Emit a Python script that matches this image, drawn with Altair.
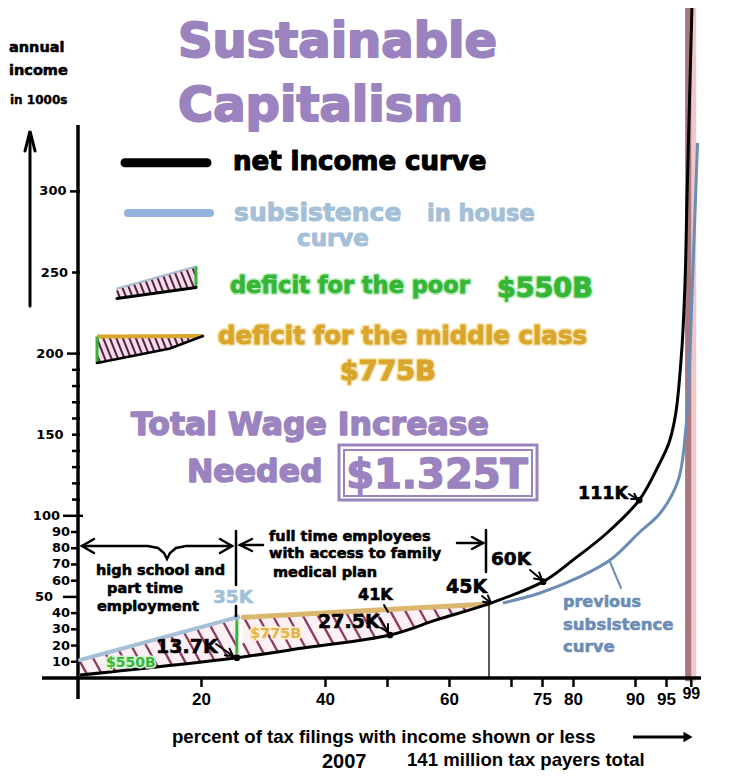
import altair as alt
import numpy as np
import pandas as pd

# ---------------- data ----------------
net_pct = [0.4, 25.7, 36.4, 50.4, 57.9, 66.5, 75.1, 79.9, 85.4, 90.6, 93.6, 95.4, 96.5, 97.5, 98.0, 98.3, 99.1]
net_inc = [1.8, 12.5, 18.5, 26.5, 35.8, 46.0, 59.4, 72.7, 89.4, 109.7, 130.1, 145.0, 163.4, 204.3, 245.4, 294.7, 413.0]
prev_pct = [68.6, 74.6, 81.0, 85.9, 90.7, 94.0, 96.9, 98.1, 98.6, 99.2, 100.0]
prev_inc = [46.2, 52.4, 62.3, 72.7, 90.0, 101.7, 122.1, 152.9, 183.7, 245.4, 329.8]
subs_pct = [0.4, 25.7]
subs_inc = [11.1, 37.4]
mid_pct = [26.7, 66.3]
mid_inc = [37.4, 45.6]
dot_pct = [25.7, 50.4, 75.1, 90.6]
dot_inc = [12.5, 26.5, 59.4, 109.7]
band_pct = [98.0, 99.05, 99.8]
ytick_major = [10, 20, 30, 40, 50, 60, 70, 80, 90, 100, 150, 200, 250, 300]
ytick_minor = [110, 120, 130, 140, 160, 170, 180, 190]
xtick_major = [20, 40, 60, 75, 80, 90, 95, 99]
xtick_minor = [50, 70]

# ---------------- geometry helpers ----------------
W, H = 725, 763
X0, XS = 77.5, 6.2
Y0, YS = 678.0, 1.622
xdom = [(8 - X0) / XS, (8 + W - X0) / XS]
ydom = [(Y0 - (8 + H)) / YS, (Y0 - 8) / YS]
xsc = alt.Scale(domain=xdom, nice=False, zero=False)
ysc = alt.Scale(domain=ydom, nice=False, zero=False)


def px2x(p):
    return (np.asarray(p, dtype=float) - X0) / XS


def py2y(p):
    return (Y0 - np.asarray(p, dtype=float)) / YS


def x2px(v):
    return X0 + XS * np.asarray(v, dtype=float)


def y2py(v):
    return Y0 - YS * np.asarray(v, dtype=float)


XE = alt.X("x:Q", scale=xsc, axis=None)
YE = alt.Y("y:Q", scale=ysc, axis=None)
ONE = pd.DataFrame({"k": [0]})
FONT = "DejaVu Sans"
NARROW = "Liberation Sans Narrow, Liberation Sans"
PURPLE = "#9a83bf"
GREEN = "#36b636"
GOLD = "#d9a52a"
STEEL = "#6b8db5"

layers = []


def poly_df(polys, pixel=True):
    rows = []
    for i, pts in enumerate(polys):
        for j, (a, b) in enumerate(pts):
            rows.append({"x": float(px2x(a)) if pixel else a,
                         "y": float(py2y(b)) if pixel else b, "seg": i, "o": j})
    return pd.DataFrame(rows)


def lines(polys, color, width, pixel=True, cap="round", interp="linear", dash=None):
    mk = dict(color=color, strokeWidth=width, strokeCap=cap, interpolate=interp)
    if dash:
        mk["strokeDash"] = dash
    return alt.Chart(poly_df(polys, pixel)).mark_line(**mk).encode(
        x=XE, y=YE, detail="seg:N", order="o:Q")


def arrow(x0, y0, x1, y1, h=7, w=4):
    dx, dy = x1 - x0, y1 - y0
    L = np.hypot(dx, dy)
    ux, uy = dx / L, dy / L
    bx, by = x1 - ux * h, y1 - uy * h
    nx, ny = -uy * w, ux * w
    return [[(x0, y0), (x1, y1)], [(bx + nx, by + ny), (x1, y1), (bx - nx, by - ny)]]


def stripes(xs, xe, up_x, up_y, lo_x, lo_y, step, slope):
    gx = np.linspace(xs, xe, 900)
    yu = np.interp(gx, up_x, up_y)
    yl = np.interp(gx, lo_x, lo_y)
    cmin = (gx - slope * yl).min()
    cmax = (gx - slope * yu).max()
    rows = []
    for c in np.arange(cmin + step / 2, cmax, step):
        ys_ = (gx - c) / slope
        ins = np.where((ys_ >= yu) & (ys_ <= yl))[0]
        if len(ins) < 2:
            continue
        a, b = ins[0], ins[-1]
        rows.append(dict(x=float(px2x(gx[a])), y=float(py2y(ys_[a])),
                         x2=float(px2x(gx[b])), y2=float(py2y(ys_[b]))))
    return pd.DataFrame(rows)


def hatch(xs, xe, up_x, up_y, lo_x, lo_y, step, slope, bg, fg, width):
    gx = np.linspace(xs, xe, 80)
    fdf = pd.DataFrame(dict(x=px2x(gx), y=py2y(np.interp(gx, up_x, up_y)),
                            y2=py2y(np.interp(gx, lo_x, lo_y))))
    out = [alt.Chart(fdf).mark_area(color=bg).encode(x=XE, y=YE, y2="y2:Q")]
    sdf = stripes(xs, xe, up_x, up_y, lo_x, lo_y, step, slope)
    out.append(alt.Chart(sdf).mark_rule(color=fg, strokeWidth=width).encode(
        x=XE, y=YE, x2="x2:Q", y2="y2:Q"))
    return out


def T(s, px, py, size, color="black", font=FONT, weight="bold", align="left",
      baseline="alphabetic", halo=None, halo_w=4, heavy=0):
    kw = dict(text=s, fontSize=size, color=color, font=font, fontWeight=weight,
              align=align, baseline=baseline)
    enc = dict(x=alt.value(px - 8), y=alt.value(py - 8))
    out = []
    if halo:
        out.append(alt.Chart(ONE).mark_text(stroke=halo, strokeWidth=halo_w,
                                            strokeJoin="round", **kw).encode(**enc))
    if heavy:
        out.append(alt.Chart(ONE).mark_text(stroke=color, strokeWidth=heavy,
                                            strokeJoin="round", **kw).encode(**enc))
    else:
        out.append(alt.Chart(ONE).mark_text(**kw).encode(**enc))
    return out


# ---------------- top 1% band ----------------
band = pd.DataFrame({"x": [band_pct[0], band_pct[1]], "x2": [band_pct[1], band_pct[2]],
                     "c": ["#a9787d", "#f0c8cb"]})
band["y"] = -2.0
band["y2"] = ydom[1]
layers.append(alt.Chart(band).mark_rect().encode(
    x=XE, x2="x2:Q", y=YE, y2="y2:Q", color=alt.Color("c:N", scale=None)))

# ---------------- deficit regions (hatched) ----------------
net_px, net_py = x2px(net_pct), y2py(net_inc)
layers += hatch(float(x2px(subs_pct[0])), float(x2px(subs_pct[1])),
                x2px(subs_pct), y2py(subs_inc), net_px, net_py,
                15, 0.55, "#fdf0f5", "#8a3a5c", 2.3)
layers += hatch(float(x2px(mid_pct[0])), float(x2px(mid_pct[1])),
                x2px(mid_pct), y2py(mid_inc), net_px, net_py,
                15, 0.55, "#fdf0f5", "#8a3a5c", 2.3)

# ---------------- axes ----------------
layers.append(lines([[(42, 678), (701, 678)]], "black", 3.5, cap="butt"))
layers.append(lines([[(78, 125), (78, 699)]], "black", 3.5, cap="butt"))
layers.append(lines([[(30, 306), (30, 133)], [(25, 151), (30, 131), (35, 151)]], "black", 3))
layers.append(lines([[(633, 737), (684, 737)]], "black", 3, cap="butt"))
layers.append(alt.Chart(pd.DataFrame({"x": [float(px2x(688))], "y": [float(py2y(737))]}))
              .mark_point(shape="triangle-right", filled=True, size=110, color="black", opacity=1)
              .encode(x=XE, y=YE))

# y ticks and labels
tick_groups = [  # (values, tick start px, tick end px)
    ([10, 20, 30, 40, 60, 70, 80, 90], 71, 78),
    ([50], 63, 78), ([100], 63, 83), ([150, 250], 72, 80), ([200], 67, 80),
    ([300], 70, 80), (ytick_minor, 72, 80)]
for vals, a, b in tick_groups:
    layers.append(alt.Chart(pd.DataFrame({"v": vals})).mark_rule(color="black", strokeWidth=2.5)
                  .encode(x=alt.value(a - 8), x2=alt.value(b - 8),
                          y=alt.Y("v:Q", scale=ysc, axis=None)))
label_groups = [([10, 20, 30, 40, 60, 70, 80, 90], 70), ([50], 53), ([100], 60),
                ([150, 200], 63.5), ([250], 68), ([300], 66.5)]
for vals, r in label_groups:
    df = pd.DataFrame({"v": vals, "t": [str(v) for v in vals]})
    layers.append(alt.Chart(df).mark_text(align="right", baseline="middle", fontSize=13,
                                          font=FONT, fontWeight="bold", color="black")
                  .encode(x=alt.value(r - 8), y=alt.Y("v:Q", scale=ysc, axis=None), text="t:N"))

# x ticks and labels
layers.append(alt.Chart(pd.DataFrame({"v": xtick_major + xtick_minor})).mark_rule(
    color="black", strokeWidth=2.5).encode(x=alt.X("v:Q", scale=xsc, axis=None),
                                           y=alt.value(678 - 8), y2=alt.value(687 - 8)))
xl = pd.DataFrame({"v": xtick_major[:-1], "t": [str(v) for v in xtick_major[:-1]]})
layers.append(alt.Chart(xl).mark_text(baseline="alphabetic", fontSize=17, font=NARROW,
                                      fontWeight="bold", color="black")
              .encode(x=alt.X("v:Q", scale=xsc, axis=None), y=alt.value(705 - 8), text="t:N"))
xl99 = pd.DataFrame({"v": xtick_major[-1:], "t": [str(xtick_major[-1])]})
layers.append(alt.Chart(xl99).mark_text(baseline="alphabetic", fontSize=16, font=NARROW,
                                        fontWeight="bold", color="black")
              .encode(x=alt.X("v:Q", scale=xsc, axis=None), y=alt.value(699 - 8), text="t:N"))

# ---------------- curves ----------------
layers.append(alt.Chart(pd.DataFrame({"x": subs_pct, "y": subs_inc})).mark_line(
    color="#a6c0d8", strokeWidth=4, strokeCap="round").encode(x=XE, y=YE))
layers.append(alt.Chart(pd.DataFrame({"x": mid_pct, "y": mid_inc})).mark_line(
    color="#dbb66e", strokeWidth=5, strokeCap="round").encode(x=XE, y=YE))
layers.append(lines([[(subs_pct[1], subs_inc[1] - 1), (subs_pct[1], 15)]], GREEN, 3,
                    pixel=False, cap="butt"))
layers.append(lines([[(489, 605), (489, 678)]], "black", 1.3, cap="butt"))
layers.append(alt.Chart(pd.DataFrame({"x": prev_pct, "y": prev_inc})).mark_line(
    color=STEEL, strokeWidth=3, interpolate="catmull-rom").encode(x=XE, y=YE))
layers.append(alt.Chart(pd.DataFrame({"x": net_pct, "y": net_inc})).mark_line(
    color="black", strokeWidth=3, interpolate="catmull-rom", clip=True).encode(x=XE, y=YE))
layers.append(alt.Chart(pd.DataFrame({"x": dot_pct, "y": dot_inc})).mark_circle(
    size=45, color="black", opacity=1).encode(x=XE, y=YE))
layers.append(alt.Chart(pd.DataFrame({"x": subs_pct[1:], "y": subs_inc[1:]})).mark_circle(
    size=40, color="#9dbad6", opacity=1).encode(x=XE, y=YE))

# ---------------- brackets & pointers ----------------
brace = [(82, 546), (148, 546), (158, 548), (164, 553), (167, 559), (170, 553),
         (176, 548), (186, 546), (232, 546)]
blk = [brace, [(94, 539), (82, 546), (94, 553)], [(220, 539), (232, 546), (220, 553)],
       [(236, 531), (236, 585)], [(236, 606), (236, 616)],
       [(240, 545), (263, 545)], [(252, 539), (240, 545), (252, 551)],
       [(457, 543), (483, 543)], [(472, 537), (483, 543), (472, 549)],
       [(486, 530), (486, 572)]]
layers.append(lines(blk, "black", 2.5))
ptr = (arrow(216, 644, 233, 656) + arrow(380, 618, 388, 632) + [[(384, 605), (388, 612)]]
       + arrow(482, 596, 491, 603) + arrow(530, 570, 542, 580) + arrow(629, 494, 637, 499, h=5, w=3))
layers.append(lines(ptr, "black", 2))
layers.append(lines([[(621, 588), (610, 562)]], STEEL, 2))

# ---------------- legend swatches ----------------
layers += hatch(117, 196, [117, 196], [288.5, 266.5], [117, 196], [298.5, 287.5],
                6.5, 0.4, "#f5dce8", "#4f2342", 2)
layers.append(lines([[(117, 288.5), (196, 266.5)]], "#a9bccc", 2))
layers.append(lines([[(196, 266.5), (196, 287.5)]], GREEN, 3, cap="butt"))
layers.append(lines([[(117, 298.5), (196, 287.5)]], "black", 3))
layers += hatch(97, 203, [97, 203], [336.5, 336], [97, 170, 203], [363, 348.5, 336],
                6.5, 0.4, "#f5dce8", "#4f2342", 2)
layers.append(lines([[(97, 336.5), (203, 336)]], GOLD, 4, cap="butt"))
layers.append(lines([[(97, 336.5), (97, 363)]], GREEN, 3, cap="butt"))
layers.append(lines([[(97, 363), (170, 348.5), (203, 336)]], "black", 2.5))
layers.append(lines([[(125, 162.7), (207, 162.7)]], "black", 9))
layers.append(lines([[(128, 213), (210, 213)]], "#92b4dc", 8))

# ---------------- texts ----------------
texts = []
texts += T("annual", 9, 52, 14.5, heavy=0.6)
texts += T("income", 9, 75, 14.5, heavy=0.6)
texts += T("in 1000s", 10, 104, 12, heavy=0.4)
texts += T("Sustainable", 178, 57, 48, PURPLE, heavy=2)
texts += T("Capitalism", 178, 121, 48, PURPLE, heavy=2)
texts += T("net income curve", 233, 170, 26, heavy=1.2)
texts += T("subsistence", 234, 221, 25, "#a4c0d8", heavy=1)
texts += T("in house", 427, 221, 22.5, "#a4c0d8", heavy=1)
texts += T("curve", 297, 246, 23, "#a4c0d8", heavy=1)
texts += T("deficit for the poor", 230, 293, 22.5, GREEN, halo="#c8f0c8", halo_w=4, heavy=0.8)
texts += T("$550B", 497, 297, 27, GREEN, halo="#c8f0c8", halo_w=4, heavy=1)
texts += T("deficit for the middle class", 218, 344, 24.5, GOLD, halo="#f7e6b4", halo_w=4, heavy=0.8)
texts += T("$775B", 340, 380, 27, GOLD, halo="#f7e6b4", halo_w=4, heavy=1)
texts += T("Total Wage Increase", 131, 435, 31.5, PURPLE, heavy=1.5)
texts += T("Needed", 187, 482, 31.5, PURPLE, heavy=1.5)
texts += T("$1.325T", 437, 488, 40, PURPLE, align="center", heavy=1.5)
texts += T("high school and", 96, 575, 14.5, heavy=0.6)
texts += T("part time", 107, 593, 14.5, heavy=0.6)
texts += T("employment", 97, 611, 14.5, heavy=0.6)
texts += T("full time employees", 269, 541, 14.5, heavy=0.6)
texts += T("with access to family", 269, 558, 14.5, heavy=0.6)
texts += T("medical plan", 273, 577, 14.5, heavy=0.6)
texts += T("35K", 213, 603, 18.5, "#a2c0d8", heavy=0.6)
texts += T("13.7K", 156, 653, 19, heavy=0.6)
texts += T("$550B", 106, 667, 14, GREEN, halo="#d4f4d4", halo_w=3)
texts += T("$775B", 250, 638, 14.5, "#e2b350", halo="#fbeec8", halo_w=3)
texts += T("27.5K", 318, 628, 19, heavy=0.6)
texts += T("41K", 358, 600, 16, heavy=0.6)
texts += T("45K", 446, 593, 19, heavy=0.6)
texts += T("60K", 491, 565, 18.5, heavy=0.6)
texts += T("111K", 578, 499, 17.5, heavy=0.6)
texts += T("previous", 563, 607, 16, STEEL, heavy=0.6)
texts += T("subsistence", 563, 630, 16.5, STEEL, heavy=0.6)
texts += T("curve", 563, 652, 16.5, STEEL, heavy=0.6)
texts += T("percent of tax filings with income shown or less", 172, 743, 18.6, font="Liberation Sans")
texts += T("2007", 322, 768, 20, font="Liberation Sans")
texts += T("141 million tax payers total", 407, 766, 18.6, font="Liberation Sans")
layers += texts

box = pd.DataFrame({"k": [0]})
layers.append(alt.Chart(box).mark_rect(filled=False, stroke=PURPLE, strokeWidth=3).encode(
    x=alt.value(339 - 8), x2=alt.value(537 - 8), y=alt.value(445 - 8), y2=alt.value(500 - 8)))
layers.append(alt.Chart(box).mark_rect(filled=False, stroke=PURPLE, strokeWidth=2).encode(
    x=alt.value(344 - 8), x2=alt.value(532 - 8), y=alt.value(450 - 8), y2=alt.value(496 - 8)))

chart = alt.layer(*layers).properties(
    width=W, height=H, autosize=alt.AutoSizeParams(type="none"), padding=0,
    background="white").configure_view(stroke=None)

chart.save("out.html", embed_options={"renderer": "svg", "actions": False})
